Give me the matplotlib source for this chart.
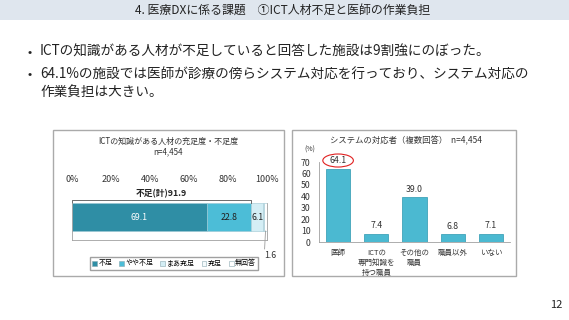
import numpy as np
import matplotlib.pyplot as plt
from matplotlib.patches import Rectangle, Ellipse

plt.rcParams['font.family'] = ['Noto Sans CJK JP', 'DejaVu Sans']

W, H = 569, 320

# left chart data
lv_labels = ['不足', 'やや不足', 'まあ充足', '充足', '無回答']
lv_values = [69.1, 22.8, 6.1, 0.4, 1.6]
lv_colors = ['#2f8ea5', '#4cbdd7', '#d4eef5', '#f4fafc', '#ffffff']
lack_total = 91.9

# right chart data
rv_labels = ['医師', 'ICTの\n専門知識を\n持つ職員', 'その他の\n職員', '職員以外', 'いない']
rv_values = [64.1, 7.4, 39.0, 6.8, 7.1]


def px_axes(fig, x0, y0, x1, y1):
    # pixel coords (top-left origin) -> axes rect
    return fig.add_axes([x0 / W, 1 - y1 / H, (x1 - x0) / W, (y1 - y0) / H])


fig = plt.figure(figsize=(W / 100, H / 100), dpi=100)
fig.patch.set_facecolor('white')

# title band
fig.patches.append(Rectangle((0, 1 - 20 / H), 1, 20 / H, transform=fig.transFigure,
                             facecolor='#dfe6ee', edgecolor='none'))
fig.text(283 / W, 1 - 10.5 / H, '4. 医療DXに係る課題　①ICT人材不足と医師の作業負担',
         ha='center', va='center', fontsize=8.6, color='#222222')

# bullets
bullets = [
    (52, True, 'ICTの知識がある人材が不足していると回答した施設は9割強にのぼった。'),
    (75, True, '64.1%の施設では医師が診療の傍らシステム対応を行っており、システム対応の'),
    (93, False, '作業負担は大きい。'),
]
for y, dot, t in bullets:
    if dot:
        fig.text(28 / W, 1 - y / H, '•', ha='left', va='center', fontsize=9, color='#222222')
    fig.text(40 / W, 1 - y / H, t, ha='left', va='center', fontsize=9.8, color='#222222')

# panel boxes
for x0, x1 in [(53, 284), (292, 516)]:
    fig.patches.append(Rectangle((x0 / W, 1 - 276 / H), (x1 - x0) / W, (276 - 130) / H,
                                 transform=fig.transFigure, facecolor='none',
                                 edgecolor='#aaaaaa', linewidth=1.0))

# ---- left chart ----
fig.text(168 / W, 1 - 141 / H, 'ICTの知識がある人材の充足度・不足度', ha='center', va='center',
         fontsize=5.8, color='#333333')
fig.text(168 / W, 1 - 152 / H, 'n=4,454', ha='center', va='center', fontsize=5.8, color='#333333')

ax = px_axes(fig, 72, 203, 267, 240)
ax.set_xlim(0, 100)
ax.set_ylim(37, 0)
left = 0
for v, c in zip(lv_values, lv_colors):
    ax.barh(14, v, height=28, left=left, color=c, edgecolor='#9cc7d3', linewidth=0.4)
    left += v
cum = np.cumsum([0] + lv_values)
for i, v in enumerate(lv_values[:3]):
    ax.text(cum[i] + v / 2, 14, f'{v:.1f}', ha='center', va='center', fontsize=6.3,
            color='white' if i == 0 else '#222222')
ax.xaxis.tick_top()
ax.set_xticks(np.arange(0, 101, 20))
ax.set_xticklabels([f'{t}%' for t in range(0, 101, 20)])
ax.tick_params(axis='x', length=0, pad=14, labelsize=6.5, colors='#333333')
ax.set_yticks([])
ax.spines['top'].set_visible(False)
for s in ['left', 'right', 'bottom']:
    ax.spines[s].set_color('#a0a0a0')
    ax.spines[s].set_linewidth(0.6)

# bracket for total
ax.plot([0, 0, lack_total, lack_total], [0, -3, -3, 0], color='#555555', lw=0.6, clip_on=False)
ax.text(lack_total / 2, -4.5, f'不足(計){lack_total}', ha='center', va='bottom', fontsize=6.3,
        fontweight='bold', color='#222222', clip_on=False)

# leader for 無回答
ax.plot([cum[4] + lv_values[4] / 2, 98.8], [28, 46], color='#888888', lw=0.5, clip_on=False)
ax.text(98.5, 53, f'{lv_values[4]}', ha='left', va='center', fontsize=6.3, color='#333333', clip_on=False)

handles = [Rectangle((0, 0), 1, 1, facecolor=c, edgecolor='#8aa8b0', linewidth=0.4) for c in lv_colors]
fig.legend(handles, lv_labels, loc='center', bbox_to_anchor=(174 / W, 1 - 263.5 / H), ncol=5,
           fontsize=5, frameon=True, fancybox=False, edgecolor='#888888', handlelength=0.7,
           handleheight=0.7, handletextpad=0.2, columnspacing=1.0, borderpad=0.35)

# ---- right chart ----
fig.text(330 / W, 1 - 141 / H, 'システムの対応者（複数回答）  n=4,454', ha='left', va='center',
         fontsize=6.0, color='#333333')
fig.text(310 / W, 1 - 150 / H, '(%)', ha='center', va='center', fontsize=5, color='#333333')

ax2 = px_axes(fig, 319, 162, 510, 242)
x = np.arange(len(rv_values))
ax2.bar(x, rv_values, width=0.63, color='#4bb9d1', edgecolor='#2c98b0', linewidth=0.5)
for xi, v in zip(x, rv_values):
    ax2.text(xi, v + 3, f'{v:.1f}', ha='center', va='bottom', fontsize=6.3, color='#333333')
ax2.set_xlim(-0.5, len(rv_values) - 0.5)
ax2.set_ylim(0, 70)
ax2.set_yticks(np.arange(0, 71, 10))
ax2.tick_params(axis='y', length=0, labelsize=6.3, colors='#333333', pad=6)
ax2.set_xticks(x)
ax2.set_xticklabels(rv_labels, fontsize=5.4, color='#333333', linespacing=1.3, va='top')
ax2.tick_params(axis='x', length=0, pad=5)
for s in ['top', 'right']:
    ax2.spines[s].set_visible(False)
for s in ['left', 'bottom']:
    ax2.spines[s].set_color('#a0a0a0')
    ax2.spines[s].set_linewidth(0.6)
ax2.add_patch(Ellipse((0, 71.3), 0.8, 11.4, facecolor='none', edgecolor='#e02020',
                      linewidth=0.8, clip_on=False))

# page number
fig.text(556 / W, 1 - 305 / H, '12', ha='center', va='center', fontsize=8, color='#222222')

fig.savefig('out.png', dpi=100)
